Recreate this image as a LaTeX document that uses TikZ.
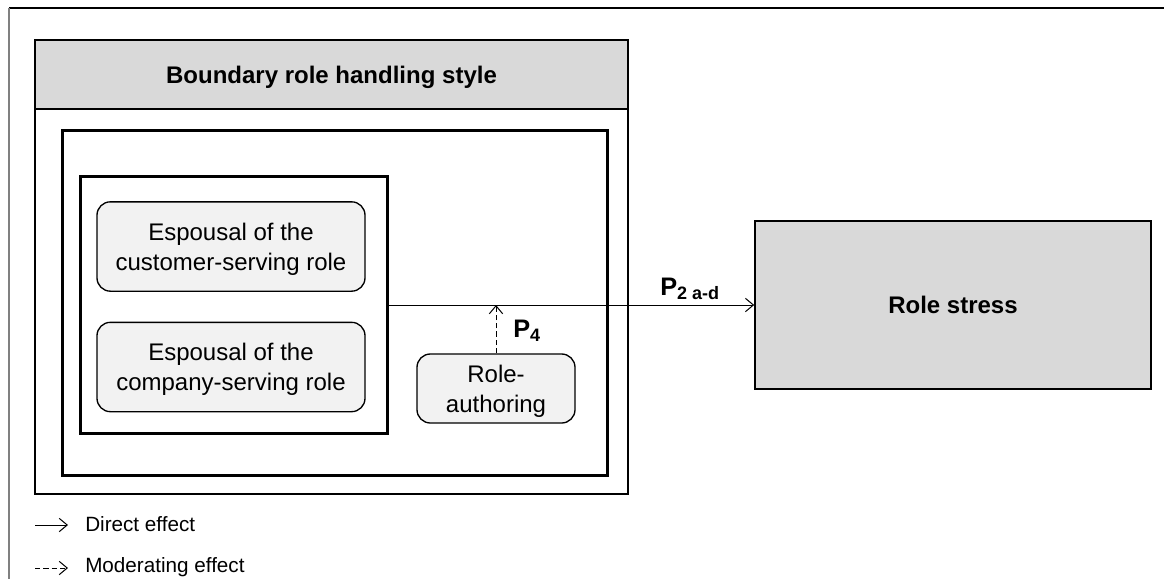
\documentclass[tikz,border=0pt]{standalone}
\usepackage{fontspec}
\setmainfont{Liberation Sans}
\usetikzlibrary{arrows.meta}
\definecolor{headfill}{HTML}{D9D9D9}
\definecolor{boxfill}{HTML}{F2F2F2}
\newcommand{\plab}[2]{\textbf{#1\raisebox{-3pt}{\fontsize{13.5}{13.5}\selectfont #2}}}
\begin{document}
\begin{tikzpicture}[x=0.75pt,y=-0.75pt,
		txt/.style={font=\fontsize{18}{22.5}\selectfont,align=center,inner sep=0pt,text depth=0pt},
		rolebox/.style={txt,draw,line width=1pt,fill=boxfill,rounded corners=10pt,minimum width=201pt,minimum height=67pt},
		groupbox/.style={draw,line width=2.25pt,minimum width=230.25pt,minimum height=192.75pt},
		outcome/.style={txt,draw,line width=1.2pt,fill=headfill,font=\bfseries\fontsize{18}{22.5}\selectfont,minimum width=297pt,minimum height=126pt},
		link/.style={line width=0.75pt,-{Straight Barb[length=6pt,width=10pt]}},
		modlink/.style={link,dash pattern=on 4pt off 2.25pt},
		plabel/.style={anchor=base west,inner sep=0pt,font=\fontsize{19}{22.5}\selectfont},
		legend/.style={anchor=base west,inner sep=0pt,font=\fontsize{15.5}{18}\selectfont}]
		\useasboundingbox (0,0) rectangle (1164,579);
		\draw[line width=1pt] (9,8) -- (1164,8);
		\draw[line width=1pt,gray] (9,8) -- (9,579);
		\draw[line width=1.5pt] (35,40) rectangle (628,494);
		\draw[line width=1.5pt,fill=headfill] (35,40) rectangle (628,109);
		\node[txt,font=\bfseries\fontsize{18}{22.5}\selectfont,anchor=base] (title) at (331.5,83) {Boundary role handling style};
		\draw[line width=2.25pt] (62,130) rectangle (607,475);
		\node[groupbox] (espousal) at (233.5,305) {};
		\node[rolebox] (customer) at (231,246.5) {Espousal of the\\customer-serving role};
		\node[rolebox] (company) at (231,367) {Espousal of the\\company-serving role};
		\node[rolebox,minimum width=118.5pt,minimum height=51.75pt] (author) at (496,388.5) {Role-\\authoring};
		\node[outcome] (stress) at (953,305) {Role stress};
		\draw[link] (espousal.east) -- (stress.west);
		\draw[modlink] (author.north) -- (author.north |- stress.west);
		\node[plabel] (ptwo) at (660,295) {\plab{P}{2 a-d}};
		\node[plabel] (pfour) at (513,337) {\plab{P}{4}};
		\coordinate (d0) at (35,525);
		\coordinate (d1) at (68,525);
		\coordinate (m0) at (35,568);
		\coordinate (m1) at (68,568);
		\draw[link] (d0) -- (d1);
		\draw[modlink] (m0) -- (m1);
		\node[legend] (direct) at (85,531) {Direct effect};
		\node[legend] (moder) at (85,572.7) {Moderating effect};
	\end{tikzpicture}
\end{document}
